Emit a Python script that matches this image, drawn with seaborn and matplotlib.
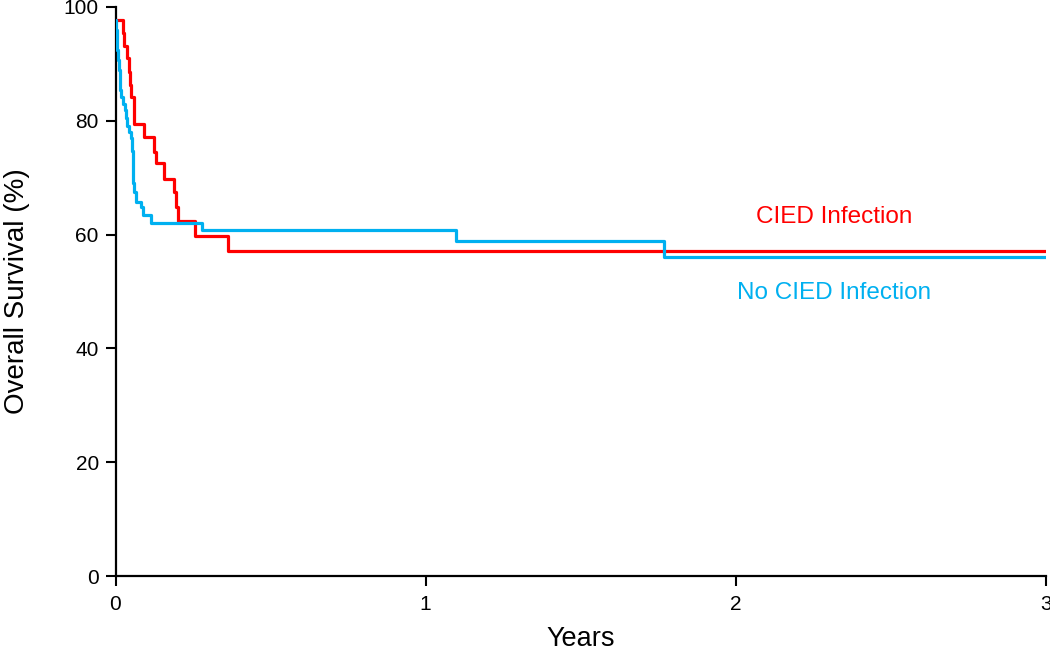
import numpy as np
import pandas as pd
import matplotlib
matplotlib.use("Agg")
import matplotlib.pyplot as plt
import seaborn as sns

# CIED Infection (red) step curve: time (years), survival (%)
red_t = [0.0, 0.023, 0.028, 0.036, 0.043, 0.047, 0.049, 0.061, 0.091, 0.123,
         0.130, 0.158, 0.190, 0.195, 0.202, 0.257, 0.364, 3.0]
red_s = [97.7, 95.4, 93.2, 91.0, 88.6, 86.3, 84.1, 79.4, 77.2, 74.6,
         72.5, 69.7, 67.4, 64.8, 62.3, 59.8, 57.2, 57.2]

# No CIED Infection (blue) step curve
blue_t = [0.0, 0.003, 0.004, 0.006, 0.008, 0.011, 0.013, 0.015, 0.019, 0.024,
          0.030, 0.035, 0.038, 0.043, 0.049, 0.052, 0.055, 0.056, 0.058, 0.060,
          0.067, 0.083, 0.090, 0.116, 0.278, 1.098, 1.770, 3.0]
blue_s = [97.7, 96.0, 94.2, 92.4, 90.7, 88.9, 87.2, 85.4, 84.2, 83.0,
          81.9, 80.5, 79.1, 78.0, 76.9, 74.7, 73.3, 71.2, 69.1, 67.5,
          65.8, 64.9, 63.4, 62.1, 60.8, 58.8, 56.1, 56.1]

groups = ["CIED Infection", "No CIED Infection"]
x_ticks = [0, 1, 2, 3]
y_ticks = [0, 20, 40, 60, 80, 100]

df = pd.concat([
    pd.DataFrame({"Years": red_t, "Survival": red_s, "Group": groups[0]}),
    pd.DataFrame({"Years": blue_t, "Survival": blue_s, "Group": groups[1]}),
], ignore_index=True)

sns.set_style("white")
plt.rcParams["font.family"] = ["Liberation Sans", "DejaVu Sans"]

fig = plt.figure(figsize=(10.5, 6.5), dpi=100)
ax = fig.add_axes([0.110, 0.1138, 0.886, 0.8755])

palette = {groups[0]: "#FF0000", groups[1]: "#00B0F0"}
sns.lineplot(data=df, x="Years", y="Survival", hue="Group", palette=palette,
             drawstyle="steps-post", estimator=None, linewidth=2.3,
             legend=False, ax=ax, zorder=3)

ax.set_xlim(0, 3)
ax.set_ylim(0, 100)
ax.set_xticks(x_ticks)
ax.set_yticks(y_ticks)
ax.tick_params(axis="both", which="major", bottom=True, left=True,
               labelsize=15, length=7, width=1.5,
               direction="out", color="black", labelcolor="black")
ax.tick_params(axis="x", pad=7)
ax.tick_params(axis="y", pad=5)
for side in ["top", "right"]:
    ax.spines[side].set_visible(False)
for side in ["left", "bottom"]:
    ax.spines[side].set_linewidth(1.6)
    ax.spines[side].set_color("black")

ax.set_xlabel("Years", fontsize=19.5, labelpad=8, color="black")
ax.set_ylabel("Overall Survival (%)", fontsize=20, labelpad=24, color="black")

ax.text(2.318, 63.1, groups[0], color="#FF0000", fontsize=17.5,
        ha="center", va="center")
ax.text(2.318, 49.7, groups[1], color="#00B0F0", fontsize=17.5,
        ha="center", va="center")

fig.savefig("out.png", dpi=100)
